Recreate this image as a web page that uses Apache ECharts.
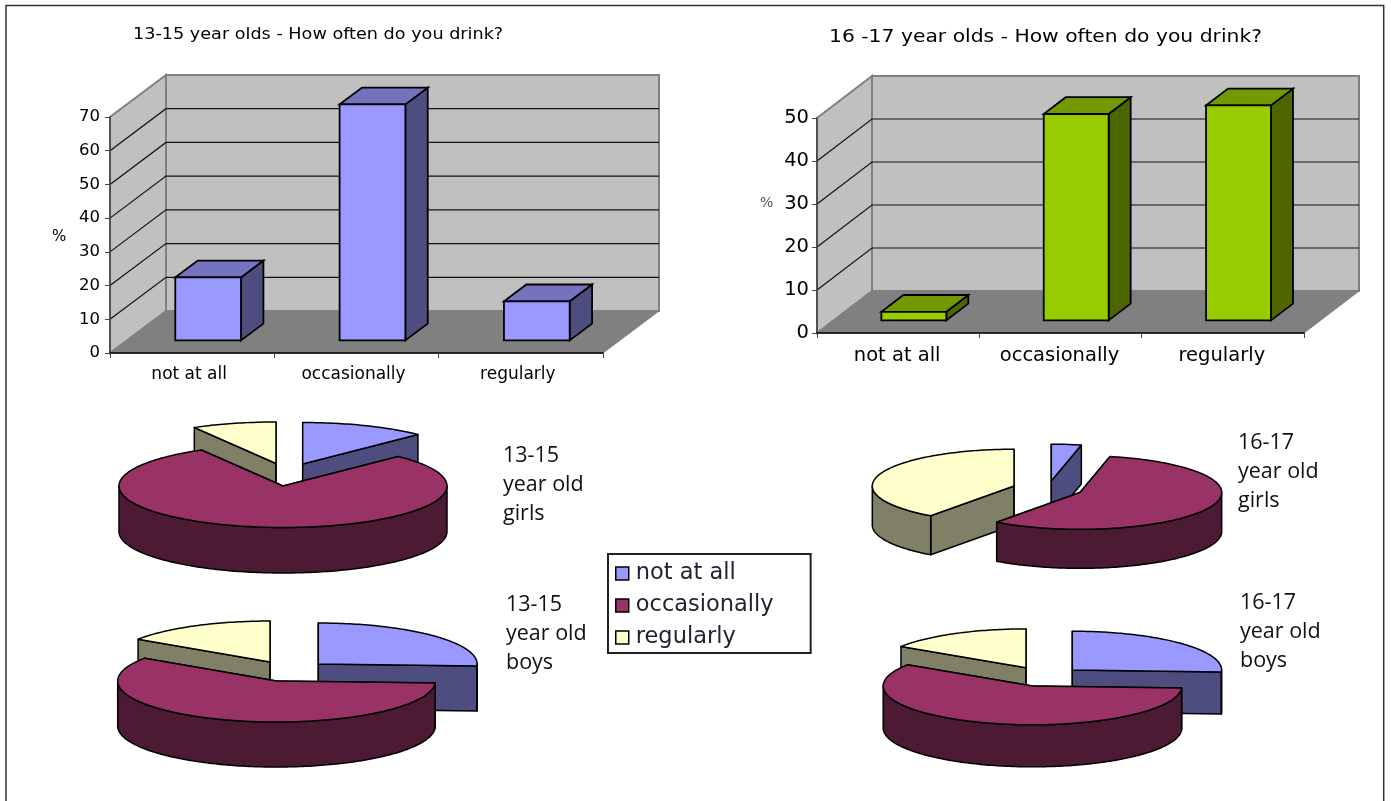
<!DOCTYPE html>
<html><head><meta charset="utf-8">
<style>html,body{margin:0;padding:0;background:#fff}#c{width:1391px;height:801px}</style>
<script src="https://cdn.jsdelivr.net/npm/echarts@6/dist/echarts.min.js"></script>
</head><body><div id="c"></div>
<script>
// ---- data ----
const categories = ['not at all', 'occasionally', 'regularly'];
const ticks1315 = [0, 10, 20, 30, 40, 50, 60, 70];
const ticks1617 = [0, 10, 20, 30, 40, 50];
const bars1315 = [18.7, 70, 11.6];
const bars1617 = [2, 48, 50];
const notAtAll = [12.4, 25.8, 3.4, 25.8];      // girls 13-15, boys 13-15, girls 16-17, boys 16-17
const occasionally = [79.3, 58.6, 56.6, 58.4];
const regularly = [8.3, 15.6, 40, 15.8];

// ---- layout & style ----
const FONT = '"DejaVu Sans"';
const pieLayouts = [
  {cx: 283, cy: 486, rx: 164, ry: 41.5, h: 45.5, explode: [[19.7,-22],[0,0],[-7,-22.5]]},
  {cx: 276.5, cy: 681, rx: 158.8, ry: 41, h: 45, explode: [[41.8,-17],[0,0],[-6.5,-19]]},
  {cx: 1080, cy: 492.5, rx: 141.7, ry: 36.8, h: 39, explode: [[-28.7,-11.5],[0,0],[-66,-6.5]]},
  {cx: 1032.5, cy: 686, rx: 149.3, ry: 38.8, h: 42, explode: [[39.8,-16],[0,0],[-6.5,-18.3]]}
];
const sliceStyles = [
  {top: '#9999FF', side: '#4D4D80'},
  {top: '#993366', side: '#4D1A33'},
  {top: '#FFFFCC', side: '#808066'}
];
const barStyles = [
  {front: '#9999FF', side: '#4D4D80', top: '#7373BF'},
  {front: '#99CC00', side: '#4D6600', top: '#739900'}
];
const depthVec = [[56, -42], [55, -42]];

function project(api, pt, d, g) { return [pt[0] + depthVec[g][0] * d, pt[1] + depthVec[g][1] * d]; }

function backdrop(g, maxV) {
  return function (params, api) {
    const v = api.value(0);
    const band = api.size([1, 0])[0];
    const xL = api.coord([0, 0])[0] - band / 2;
    const xR = api.coord([2, 0])[0] + band / 2;
    const yOf = val => api.coord([0, val])[1];
    const P = (x, val, d) => project(api, [x, yOf(val)], d, g);
    const kids = [];
    if (params.dataIndex === 0) {
      kids.push({type:'polygon', z2:0, shape:{points:[P(xL,0,1),P(xR,0,1),P(xR,maxV,1),P(xL,maxV,1)]},
        style:{fill:'#C0C0C0', stroke:'#808080', lineWidth:2}});
      kids.push({type:'polygon', z2:0, shape:{points:[P(xL,0,0),P(xL,0,1),P(xL,maxV,1),P(xL,maxV,0)]},
        style:{fill:'#C0C0C0', stroke:'#808080', lineWidth:2}});
      kids.push({type:'polygon', z2:1, shape:{points:[P(xL,0,0),P(xR,0,0),P(xR,0,1),P(xL,0,1)]},
        style:{fill:'#808080', stroke:'#808080', lineWidth:1}});
    } else if (v < maxV) {
      kids.push({type:'polyline', z2:2, shape:{points:[P(xL,v,0),P(xL,v,1),P(xR,v,1)]},
        style:{fill:null, stroke:'#111', lineWidth:1.2}});
    }
    return {type:'group', children:kids};
  };
}

function bar3d(g) {
  const st = barStyles[g];
  return function (params, api) {
    const c = api.value(0), v = api.value(1);
    const band = api.size([1, 0])[0];
    const x = api.coord([c, 0])[0];
    const x0 = x - band * 0.205, x1 = x + band * 0.195;
    const yb = api.coord([c, 0])[1], yt = api.coord([c, v])[1];
    const d0 = 0.3, d1 = 0.7;
    const p = (px, py, d) => project(api, [px, py], d, g);
    const line = {stroke:'#000', lineWidth:1.8, lineJoin:'miter'};
    return {type:'group', children:[
      {type:'polygon', shape:{points:[p(x1,yb,d0),p(x1,yb,d1),p(x1,yt,d1),p(x1,yt,d0)]}, style:{fill:st.side, ...line}},
      {type:'polygon', shape:{points:[p(x0,yt,d0),p(x1,yt,d0),p(x1,yt,d1),p(x0,yt,d1)]}, style:{fill:st.top, ...line}},
      {type:'polygon', shape:{points:[p(x0,yb,d0),p(x1,yb,d0),p(x1,yt,d0),p(x0,yt,d0)]}, style:{fill:st.front, ...line}}
    ]};
  };
}

// One pie per data row; the slice angles follow from the three value arrays.
function sliceRender(catIdx) {
  const st = sliceStyles[catIdx];
  const arrays = [notAtAll, occasionally, regularly];
  return function (params) {
    const i = params.dataIndex;
    const L = pieLayouts[i];
    const vals = arrays.map(a => a[i]);
    const total = vals[0] + vals[1] + vals[2];
    let acc = 0;
    for (let k = 0; k < catIdx; k++) acc += vals[k];
    const a0 = acc / total * 2 * Math.PI;
    const a1 = (acc + vals[catIdx]) / total * 2 * Math.PI;
    const ex = L.explode[catIdx];
    const cx = L.cx + ex[0], cy = L.cy + ex[1];
    const pt = (a, dz) => [cx + L.rx * Math.sin(a), cy - L.ry * Math.cos(a) + dz];
    const arc = (from, to, dz) => {
      const n = Math.max(2, Math.ceil(Math.abs(to - from) / 0.02));
      const out = [];
      for (let k = 0; k <= n; k++) out.push(pt(from + (to - from) * k / n, dz));
      return out;
    };
    const line = {stroke:'#000', lineWidth:1.5, lineJoin:'round'};
    const kids = [];
    const apex = [cx, cy], apexB = [cx, cy + L.h];
    [a0, a1].forEach(a => {
      kids.push({type:'polygon', shape:{points:[apex, pt(a,0), pt(a,L.h), apexB]}, style:{fill:st.side, ...line}});
    });
    const w0 = Math.max(a0, Math.PI / 2), w1 = Math.min(a1, Math.PI * 1.5);
    if (w1 > w0) {
      kids.push({type:'polygon', shape:{points:arc(w0,w1,0).concat(arc(w1,w0,L.h))}, style:{fill:st.side, ...line}});
    }
    kids.push({type:'polygon', shape:{points:[apex].concat(arc(a0,a1,0))}, style:{fill:st.top, ...line}});
    return {type:'group', children:kids};
  };
}

const pieRows = notAtAll.map((_, i) => i);
const axisLine = {lineStyle:{color:'#444', width:1.6}};

const option = {
  backgroundColor:'#fff', animation:false,
  textStyle:{fontFamily:FONT},
  legend:{
    orient:'vertical', left:608, top:554, selectedMode:false,
    padding:[8,37,4,7], itemGap:9, itemWidth:13, itemHeight:13,
    borderColor:'#222', borderWidth:2, backgroundColor:'#fff',
    textStyle:{fontSize:22.5, fontFamily:FONT, color:'#223', padding:[0,0,0,2]},
    data:categories.map((name,i)=>({name, icon:'rect', itemStyle:{color:sliceStyles[i].top, borderColor:'#000', borderWidth:1.5}}))
  },
  grid:[
    {left:110, top:117, width:493, height:236},
    {left:817, top:118, width:487, height:215}
  ],
  xAxis:[0,1].map(g=>({
    type:'category', gridIndex:g, data:categories, z:5,
    axisTick:{show:true, alignWithLabel:false, length:5, lineStyle:{color:'#444'}},
    axisLine:{lineStyle:{color:'#000', width:1.6}},
    axisLabel:{color:'#000', fontFamily:FONT, fontSize:g?19.5:17, margin:g?13:13, padding:g?[0,2,0,0]:[0,6,0,0]}
  })),
  yAxis:[
    {type:'value', gridIndex:0, min:0, max:70, interval:10, z:5, splitLine:{show:false},
     axisLine:{show:true, ...axisLine}, axisTick:{show:true, length:5, lineStyle:{color:'#444'}},
     axisLabel:{color:'#000', fontFamily:FONT, fontSize:16.5, margin:10, padding:[4,0,0,0]}},
    {type:'value', gridIndex:1, min:0, max:50, interval:10, z:5, splitLine:{show:false},
     axisLine:{show:true, ...axisLine}, axisTick:{show:true, length:5, lineStyle:{color:'#444'}},
     axisLabel:{color:'#000', fontFamily:FONT, fontSize:19.5, margin:8, padding:[5,0,0,0]}}
  ],
  graphic:[
    {type:'polyline', silent:true, z:100, shape:{points:[[6,801],[6,5.5],[1383.7,5.5],[1383.7,801]]}, style:{fill:null, stroke:'#333', lineWidth:1.5}},
    {type:'text', x:133, y:35, scaleX:1.137, style:{text:'13-15 year olds - How often do you drink?', fontSize:15.5, fontFamily:FONT, fill:'#000', verticalAlign:'middle'}},
    {type:'text', x:829, y:37, scaleX:1.128, style:{text:'16 -17 year olds - How often do you drink?', fontSize:18, fontFamily:FONT, fill:'#000', verticalAlign:'middle'}},
    {type:'text', left:52, top:230, style:{text:'%', fontSize:15, fontFamily:FONT, fill:'#000'}},
    {type:'text', left:760, top:196, style:{text:'%', fontSize:14, fontFamily:FONT, fill:'#555'}},
    ...[['13-15\nyear old\ngirls',503,441],['13-15\nyear old\nboys',506,590],['16-17\nyear old\ngirls',1238,428.5],['16-17\nyear old\nboys',1240,588]].map(t=>({
      type:'text', left:t[1], top:t[2], style:{text:t[0], fontSize:21.5, lineHeight:29, fontFamily:'"Open Sans"', fill:'#111'}
    }))
  ],
  series:[
    {type:'custom', name:'wall1315', xAxisIndex:0, yAxisIndex:0, z:1, silent:true, data:ticks1315.map(t=>[t]), encode:{y:0}, renderItem:backdrop(0,70)},
    {type:'custom', name:'wall1617', xAxisIndex:1, yAxisIndex:1, z:1, silent:true, data:ticks1617.map(t=>[t]), encode:{y:0}, renderItem:backdrop(1,50)},
    {type:'custom', name:'13-15 year olds', xAxisIndex:0, yAxisIndex:0, z:2, data:bars1315.map((v,i)=>[i,v]), encode:{x:0,y:1}, renderItem:bar3d(0)},
    {type:'custom', name:'16-17 year olds', xAxisIndex:1, yAxisIndex:1, z:2, data:bars1617.map((v,i)=>[i,v]), encode:{x:0,y:1}, renderItem:bar3d(1)},
    {type:'custom', name:categories[0], coordinateSystem:'none', z:3, itemStyle:{color:sliceStyles[0].top}, data:pieRows, renderItem:sliceRender(0)},
    {type:'custom', name:categories[2], coordinateSystem:'none', z:3, itemStyle:{color:sliceStyles[2].top}, data:pieRows, renderItem:sliceRender(2)},
    {type:'custom', name:categories[1], coordinateSystem:'none', z:4, itemStyle:{color:sliceStyles[1].top}, data:pieRows, renderItem:sliceRender(1)}
  ]
};
const chart = echarts.init(document.getElementById('c'), null, {renderer:'canvas'});
chart.setOption(option);
</script></body></html>
